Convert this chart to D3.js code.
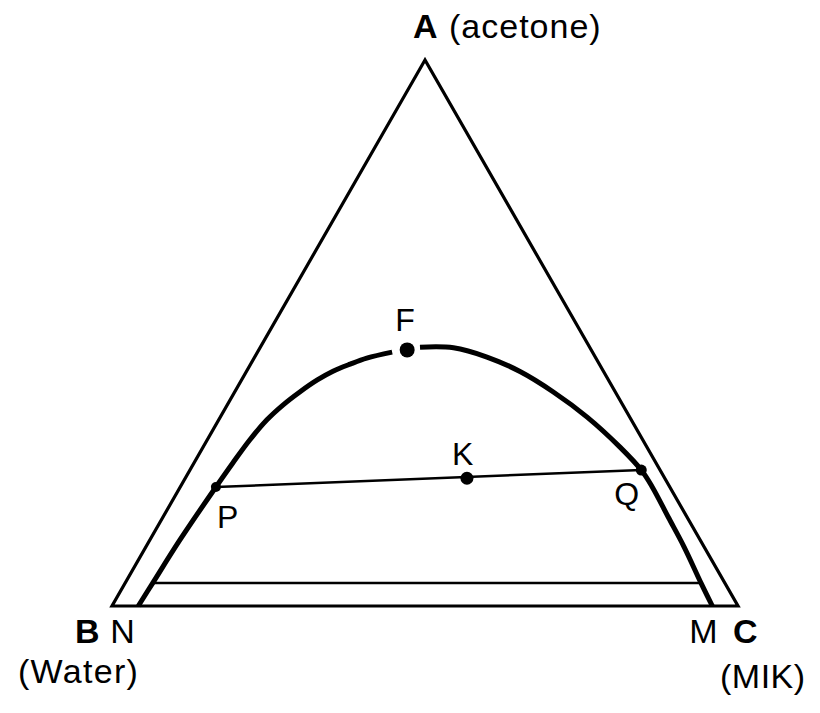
<!DOCTYPE html>
<html>
<head>
<meta charset="utf-8">
<script src="https://cdn.jsdelivr.net/npm/d3@7"></script>
<style>
  html, body { margin: 0; padding: 0; background: #fff; }
  svg text { font-family: "Liberation Sans", Arial, Helvetica, sans-serif; fill: #000; }
</style>
</head>
<body>
<svg id="chart" width="820" height="713"></svg>
<script>
// Ternary data: fractions of acetone (A) and MIK (C); water (B) = 1 - A - C
const vertexNames = ["A", "B", "C"];
const vertexSubs = ["(acetone)", "(Water)", "(MIK)"];

// Binodal curve, raffinate (water-rich) branch from N up to near plait point F
const leftAcetone = [0.000, 0.042, 0.121, 0.218, 0.262, 0.304, 0.341, 0.368, 0.392, 0.414, 0.430, 0.443, 0.454, 0.465];
const leftMIK     = [0.042, 0.044, 0.048, 0.057, 0.062, 0.068, 0.077, 0.089, 0.104, 0.121, 0.138, 0.159, 0.180, 0.215];
// Extract (MIK-rich) branch from just past F down to M
const rightAcetone = [0.474, 0.473, 0.456, 0.429, 0.392, 0.346, 0.291, 0.249, 0.218, 0.163, 0.108, 0.042, 0.000];
const rightMIK     = [0.255, 0.309, 0.371, 0.438, 0.509, 0.586, 0.666, 0.721, 0.754, 0.807, 0.860, 0.920, 0.959];

// Marked points
const pointNames   = ["F", "P", "Q", "K"];
const pointAcetone = [0.469, 0.218, 0.249, 0.234];
const pointMIK     = [0.237, 0.057, 0.721, 0.450];

// Tie lines: [acetone, MIK] at each end
const tieNames = ["PQ", "base"];
const tieAcetone1 = [0.218, 0.042], tieMIK1 = [0.057, 0.044];
const tieAcetone2 = [0.249, 0.042], tieMIK2 = [0.721, 0.920];

// Base ends of binodal
const baseNames = ["N", "M"];
const baseMIK = [0.042, 0.959];

const svg = d3.select("#chart");
const x = d3.scaleLinear().domain([0, 1]).range([112, 738]);
const y = d3.scaleLinear().domain([0, 1]).range([606, 60]);
// ternary -> cartesian
const px = (a, c) => x(c + a / 2);
const py = (a) => y(a);

// Triangle
const verts = [[1, 0], [0, 0], [0, 1]]; // A, B, C as [acetone, MIK]
svg.append("path")
  .attr("d", d3.line().x(d => px(d[0], d[1])).y(d => py(d[0]))(verts) + "Z")
  .attr("fill", "none").attr("stroke", "#000").attr("stroke-width", 3.2)
  .attr("stroke-linejoin", "miter");

// Binodal curve
const line = d3.line().x(d => px(d[0], d[1])).y(d => py(d[0])).curve(d3.curveCatmullRom.alpha(0.5));
const left = leftAcetone.map((a, i) => [a, leftMIK[i]]);
const right = rightAcetone.map((a, i) => [a, rightMIK[i]]);
[left, right].forEach(seg => {
  svg.append("path").attr("d", line(seg))
    .attr("fill", "none").attr("stroke", "#000").attr("stroke-width", 5)
    .attr("stroke-linecap", "butt");
});

// Tie lines
tieNames.forEach((n, i) => {
  svg.append("line")
    .attr("x1", px(tieAcetone1[i], tieMIK1[i])).attr("y1", py(tieAcetone1[i]))
    .attr("x2", px(tieAcetone2[i], tieMIK2[i])).attr("y2", py(tieAcetone2[i]))
    .attr("stroke", "#000").attr("stroke-width", 2.5);
});

// Points
const radii = {F: 7.5, P: 5, Q: 5.5, K: 6.5};
pointNames.forEach((n, i) => {
  svg.append("circle")
    .attr("cx", px(pointAcetone[i], pointMIK[i])).attr("cy", py(pointAcetone[i]))
    .attr("r", radii[n]).attr("fill", "#000");
});

// Point labels (offsets from point positions)
const labelOff = {F: [-12, -19], P: [1, 41], Q: [-27, 35], K: [-15, -13]};
pointNames.forEach((n, i) => {
  svg.append("text")
    .attr("x", px(pointAcetone[i], pointMIK[i]) + labelOff[n][0])
    .attr("y", py(pointAcetone[i]) + labelOff[n][1])
    .attr("font-size", 32).text(n);
});

// Vertex labels
const A = [px(1, 0), py(1)], B = [px(0, 0), py(0)], C = [px(0, 1), py(0)];
const tA = svg.append("text").attr("x", A[0] - 12).attr("y", A[1] - 22).attr("font-size", 34)
  .attr("letter-spacing", 1);
tA.append("tspan").attr("font-weight", "bold").text(vertexNames[0]);
tA.append("tspan").text(" " + vertexSubs[0]);

svg.append("text").attr("x", B[0] - 37).attr("y", B[1] + 37).attr("font-size", 34)
  .attr("font-weight", "bold").text(vertexNames[1]);
svg.append("text").attr("x", px(0, baseMIK[0]) - 28).attr("y", B[1] + 37).attr("font-size", 34).text(baseNames[0]);
svg.append("text").attr("x", B[0] - 94).attr("y", B[1] + 77).attr("font-size", 34)
  .attr("letter-spacing", 1.3).text(vertexSubs[1]);

svg.append("text").attr("x", px(0, baseMIK[1]) - 23).attr("y", C[1] + 37).attr("font-size", 34).text(baseNames[1]);
svg.append("text").attr("x", C[0] - 5).attr("y", C[1] + 37).attr("font-size", 34)
  .attr("font-weight", "bold").text(vertexNames[2]);
svg.append("text").attr("x", C[0] - 18).attr("y", C[1] + 82).attr("font-size", 34)
  .attr("letter-spacing", 0.5).text(vertexSubs[2]);
</script>
</body>
</html>
